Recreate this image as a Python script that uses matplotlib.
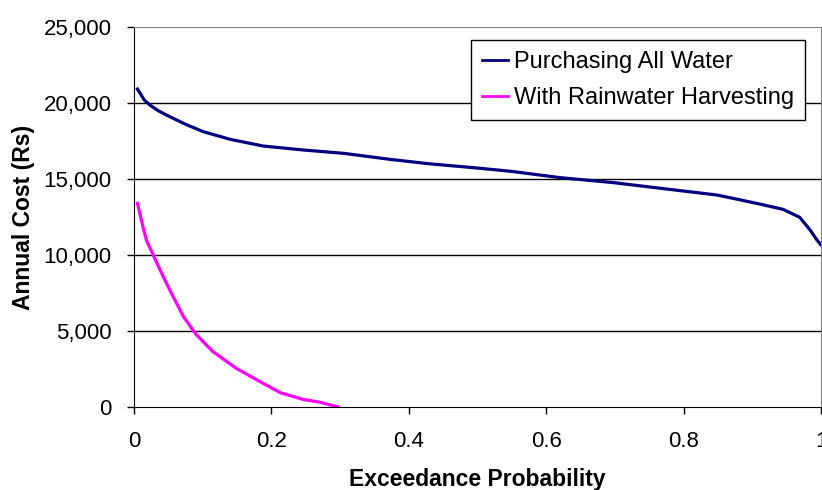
import matplotlib.pyplot as plt
from matplotlib.ticker import FuncFormatter

plt.rcParams['font.family'] = ['Liberation Sans', 'DejaVu Sans']

# Annual cost vs exceedance probability
prob_purchase = [0.005, 0.015, 0.023, 0.035, 0.052, 0.075, 0.101, 0.14, 0.188, 0.246,
                 0.305, 0.373, 0.43, 0.5, 0.55, 0.62, 0.7, 0.766, 0.848, 0.88,
                 0.911, 0.945, 0.969, 0.984, 0.994, 1.0]
cost_purchase = [20920, 20200, 19870, 19500, 19100, 18600, 18110, 17610, 17170, 16910,
                 16690, 16290, 16000, 15720, 15500, 15090, 14750, 14390, 13950, 13650,
                 13350, 13000, 12480, 11650, 10990, 10660]

prob_rain = [0.005, 0.0136, 0.018, 0.028, 0.038, 0.052, 0.072, 0.091, 0.115, 0.149,
             0.179, 0.213, 0.246, 0.271, 0.297]
cost_rain = [13400, 11760, 10990, 10000, 9010, 7700, 5940, 4740, 3640, 2540,
             1780, 940, 500, 310, 0]

fig = plt.figure(figsize=(8.22, 4.9), dpi=100)
ax = fig.add_axes([0.163, 0.1694, 0.8358, 0.7755])

ax.plot(prob_purchase, cost_purchase, color='#000080', lw=2.3, label='Purchasing All Water')
ax.plot(prob_rain, cost_rain, color='#FF00FF', lw=2.3, label='With Rainwater Harvesting')

ax.set_xlim(0, 1)
ax.set_ylim(0, 25000)
ax.set_xticks([0, 0.2, 0.4, 0.6, 0.8, 1])
ax.set_xticklabels(['0', '0.2', '0.4', '0.6', '0.8', '1'])
ax.set_yticks(range(0, 25001, 5000))
ax.yaxis.set_major_formatter(FuncFormatter(lambda v, p: f'{int(v):,}'))

for lvl in range(5000, 25000, 5000):
    ax.axhline(lvl, color='black', lw=1, zorder=0)

ax.tick_params(axis='both', labelsize=16, length=5, width=1, direction='out', color='black')
ax.tick_params(axis='x', pad=12)
ax.tick_params(axis='y', pad=11)

for side in ['top', 'right']:
    ax.spines[side].set_color('#808080')
for side in ['left', 'bottom']:
    ax.spines[side].set_color('black')

ax.set_xlabel('Exceedance Probability', fontsize=16.5, fontweight='bold', labelpad=12)
ax.set_ylabel('Annual Cost (Rs)', fontsize=16.5, fontweight='bold', labelpad=6)

leg = ax.legend(loc='upper right', bbox_to_anchor=(0.976, 0.965), fontsize=17,
                frameon=True, fancybox=False, edgecolor='black', handlelength=1.1,
                handletextpad=0.25, borderpad=0.45, labelspacing=0.6, borderaxespad=0)
leg.get_frame().set_linewidth(1)
leg.get_frame().set_alpha(1)
for line in leg.get_lines():
    line.set_linewidth(2)

fig.savefig('out.png', dpi=100)
